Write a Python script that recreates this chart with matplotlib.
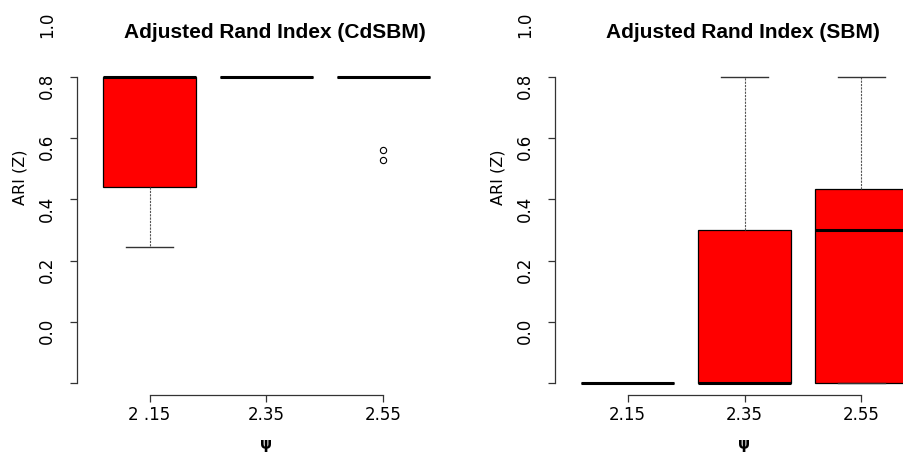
import matplotlib

matplotlib.use("Agg")
import matplotlib.pyplot as plt
import matplotlib.transforms as mtransforms

# psi levels (x categories)
psi_left = ["2 .15", "2.35", "2.55"]
psi_right = ["2.15", "2.35", "2.55"]

# CdSBM box statistics
cd_whislo = [0.246, 0.8, 0.8]
cd_q1 = [0.441, 0.8, 0.8]
cd_med = [0.8, 0.8, 0.8]
cd_q3 = [0.8, 0.8, 0.8]
cd_whishi = [0.8, 0.8, 0.8]
cd_fliers = [[], [], [0.562, 0.529]]

# SBM box statistics
sbm_whislo = [-0.2, -0.2, -0.2]
sbm_q1 = [-0.2, -0.2, -0.2]
sbm_med = [-0.2, -0.2, 0.3]
sbm_q3 = [-0.2, 0.3, 0.435]
sbm_whishi = [-0.2, 0.8, 0.8]
sbm_fliers = [[], [], []]

ytick_pos = [0.8, 0.6, 0.4, 0.2, 0.0, -0.2]
ylabel_vals = [1.0, 0.8, 0.6, 0.4, 0.2, 0.0]
ylabel_txt = ["1.0", "0.8", "0.6", "0.4", "0.2", "0.0"]

W, H = 904, 454
fig = plt.figure(figsize=(W / 100, H / 100), dpi=100)


def make_stats(whislo, q1, med, q3, whishi, fliers):
    return [
        dict(whislo=a, q1=b, med=c, q3=d, whishi=e, fliers=f)
        for a, b, c, d, e, f in zip(whislo, q1, med, q3, whishi, fliers)
    ]


def draw_panel(left_px, stats, xlabels, title, title_x):
    ax = fig.add_axes([left_px / W, (H - 395.3) / H, 379 / W, 330.6 / H])
    ax.bxp(
        stats,
        positions=[1, 2, 3],
        widths=0.8,
        patch_artist=True,
        boxprops=dict(facecolor="#ff0000", edgecolor="black", linewidth=0.9),
        medianprops=dict(color="black", linewidth=2.2, solid_capstyle="butt"),
        whiskerprops=dict(color="#555555", linewidth=0.8, linestyle=(0, (2, 1))),
        capprops=dict(color="#333333", linewidth=1.0),
        flierprops=dict(marker="o", markersize=4.5, markerfacecolor="none",
                        markeredgecolor="black", markeredgewidth=0.8),
    )
    ax.set_xlim(0.38, 3.62)
    ax.set_ylim(-0.24, 0.84)

    for s in ("top", "right"):
        ax.spines[s].set_visible(False)
    ax.spines["left"].set_bounds(-0.2, 0.8)
    ax.spines["bottom"].set_bounds(1, 3)
    for s in ("left", "bottom"):
        ax.spines[s].set_color("#333333")
        ax.spines[s].set_linewidth(0.9)

    ax.set_xticks([1, 2, 3])
    ax.set_xticklabels(xlabels, fontsize=12)
    ax.set_yticks(ytick_pos)
    ax.set_yticklabels([])
    ax.tick_params(direction="out", length=5, width=0.9, color="#333333", pad=3)

    # y labels sit a little below their ticks, as in the original
    tr = mtransforms.offset_copy(ax.get_yaxis_transform(), fig=fig, x=-30, y=-9, units="dots")
    for v, t in zip(ylabel_vals, ylabel_txt):
        ax.text(0, v, t, transform=tr, rotation=90, ha="center", va="center",
                fontsize=12, clip_on=False)

    ax.text(-0.151, 0.66, "ARI (Z)", transform=ax.transAxes, rotation=90,
            ha="center", va="center", fontsize=11.5)
    ax.text(title_x, 1.098, title, transform=ax.transAxes, ha="center", va="center",
            fontsize=15, fontweight="bold", family="Liberation Sans")
    xl_tr = mtransforms.blended_transform_factory(ax.transData, ax.transAxes)
    ax.text(2, -0.15, "ψ", transform=xl_tr, ha="center", va="center",
            fontsize=11, fontweight="bold")
    return ax


draw_panel(77, make_stats(cd_whislo, cd_q1, cd_med, cd_q3, cd_whishi, cd_fliers),
           psi_left, "Adjusted Rand Index (CdSBM)", 0.522)
draw_panel(555, make_stats(sbm_whislo, sbm_q1, sbm_med, sbm_q3, sbm_whishi, sbm_fliers),
           psi_right, "Adjusted Rand Index (SBM)", 0.496)

fig.savefig("out.png", dpi=100)
